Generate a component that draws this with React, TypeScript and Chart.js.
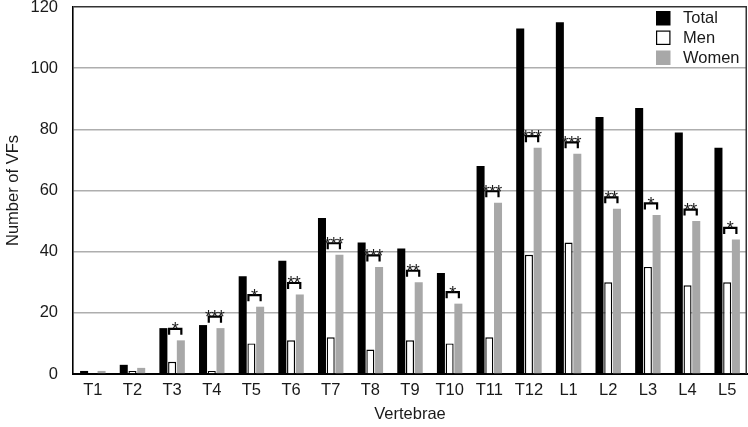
import React, { useEffect, useRef } from "react";
import { Chart, registerables } from "chart.js";

Chart.register(...registerables);

const vertebrae = ["T1", "T2", "T3", "T4", "T5", "T6", "T7", "T8", "T9", "T10", "T11", "T12", "L1", "L2", "L3", "L4", "L5"];
const totalVFs = [1, 3, 15, 16, 32, 37, 51, 43, 41, 33, 68, 113, 115, 84, 87, 79, 74];
const menVFs = [0, 1, 4, 1, 10, 11, 12, 8, 11, 10, 12, 39, 43, 30, 35, 29, 30];
const womenVFs = [1, 2, 11, 15, 22, 26, 39, 35, 30, 23, 56, 74, 72, 54, 52, 50, 44];
// Men vs women significance marker for each vertebra
const significance = ["", "", "*", "***", "*", "**", "***", "***", "**", "*", "***", "***", "***", "**", "*", "**", "*"];
const seriesNames = ["Total", "Men", "Women"];
const yMin = 0;
const yMax = 120;
const yStep = 20;

const FONT = "'Liberation Sans', Arial, sans-serif";
const TEXT = "#1a1a1a";
const BLACK = "#000000";
const GREY = "#a8a8a8";

// Brackets with asterisks between the men and women bars
const bracketPlugin = {
  id: "sigBrackets",
  afterDatasetsDraw(chart: any) {
    const ctx = chart.ctx;
    const men = chart.getDatasetMeta(1).data;
    const women = chart.getDatasetMeta(2).data;
    ctx.save();
    ctx.strokeStyle = BLACK;
    ctx.lineWidth = 2.2;
    ctx.fillStyle = TEXT;
    ctx.font = `18px ${FONT}`;
    ctx.textAlign = "center";
    ctx.textBaseline = "alphabetic";
    const starGap = 6.4;
    significance.forEach((mark, i) => {
      if (!mark) return;
      const x1 = men[i].x - 3;
      const x2 = women[i].x + 0.5;
      const top = women[i].y - 11.5;
      ctx.beginPath();
      ctx.moveTo(x1, top + 6);
      ctx.lineTo(x1, top);
      ctx.lineTo(x2, top);
      ctx.lineTo(x2, top + 6);
      ctx.stroke();
      const mid = (x1 + x2) / 2;
      const n = mark.length;
      for (let k = 0; k < n; k++) {
        ctx.fillText("*", mid + (k - (n - 1) / 2) * starGap, top + 6.5);
      }
    });
    ctx.restore();
  },
};

// Right frame line and the legend in the top-right corner of the plot
const framePlugin = {
  id: "frameAndLegend",
  afterDraw(chart: any) {
    const ctx = chart.ctx;
    const area = chart.chartArea;
    ctx.save();
    ctx.strokeStyle = "#333333";
    ctx.lineWidth = 1.5;
    ctx.beginPath();
    ctx.moveTo(area.right - 0.75, area.top);
    ctx.lineTo(area.right - 0.75, area.bottom);
    ctx.stroke();

    const boxX = 656;
    const boxSize = 14.5;
    const rows = [11, 30.5, 50.5];
    const fills = [BLACK, "#ffffff", GREY];
    ctx.font = `16.5px ${FONT}`;
    ctx.textBaseline = "middle";
    ctx.textAlign = "left";
    seriesNames.forEach((name, i) => {
      const y = rows[i];
      ctx.fillStyle = fills[i];
      ctx.fillRect(boxX, y, boxSize, boxSize);
      if (i === 1) {
        ctx.strokeStyle = BLACK;
        ctx.lineWidth = 1.2;
        ctx.strokeRect(boxX + 0.6, y + 0.6, boxSize - 1.2, boxSize - 1.2);
      }
      ctx.fillStyle = TEXT;
      ctx.fillText(name, 683, y + boxSize / 2 + 0.5);
    });
    ctx.restore();
  },
};

export default function App() {
  const canvasRef = useRef<HTMLCanvasElement | null>(null);

  useEffect(() => {
    const canvas = canvasRef.current;
    if (!canvas) return;
    const chart = new Chart(canvas, {
      type: "bar",
      data: {
        labels: vertebrae,
        datasets: [
          {
            label: seriesNames[0],
            data: totalVFs,
            backgroundColor: BLACK,
            borderWidth: 0,
          },
          {
            label: seriesNames[1],
            data: menVFs,
            backgroundColor: "#ffffff",
            borderColor: BLACK,
            borderWidth: 1.4,
          },
          {
            label: seriesNames[2],
            data: womenVFs,
            backgroundColor: GREY,
            borderWidth: 0,
          },
        ],
      },
      options: {
        responsive: false,
        animation: false,
        events: [],
        layout: { padding: { top: 7, right: 1, left: 0, bottom: 0 } },
        datasets: {
          bar: { categoryPercentage: 0.66, barPercentage: 0.92 },
        },
        plugins: {
          legend: { display: false },
          tooltip: { enabled: false },
        },
        scales: {
          x: {
            grid: { display: false, drawTicks: false },
            border: { color: BLACK, width: 2 },
            ticks: { font: { family: FONT, size: 16.5 }, color: TEXT, padding: 7, maxRotation: 0 },
            title: {
              display: true,
              text: "Vertebrae",
              font: { family: FONT, size: 16.5 },
              color: TEXT,
              padding: { top: 4, bottom: 3 },
            },
            afterFit(scale: any) {
              scale.height = 53;
              scale.paddingLeft = 0;
              scale.paddingRight = 0;
            },
          },
          y: {
            min: yMin,
            max: yMax,
            ticks: { stepSize: yStep, font: { family: FONT, size: 16.5 }, color: TEXT, padding: 15 },
            grid: {
              drawTicks: false,
              lineWidth: 1.6,
              color: (c: any) => (c.tick && c.tick.value === yMax ? "#333333" : "#aeaeae"),
            },
            border: { color: BLACK, width: 1.6 },
            title: {
              display: true,
              text: "Number of VFs",
              font: { family: FONT, size: 16.5 },
              color: TEXT,
              padding: { top: 4, bottom: 4 },
            },
            afterFit(scale: any) {
              scale.width = 73;
              scale.paddingTop = 0;
              scale.paddingBottom = 0;
            },
          },
        },
      },
      plugins: [bracketPlugin, framePlugin],
    });
    return () => chart.destroy();
  }, []);

  return (
    <div style={{ position: "fixed", left: 0, top: 0, width: 748, height: 427, background: "#ffffff" }}>
      <canvas ref={canvasRef} width={748} height={427} style={{ display: "block", width: 748, height: 427 }} />
    </div>
  );
}
